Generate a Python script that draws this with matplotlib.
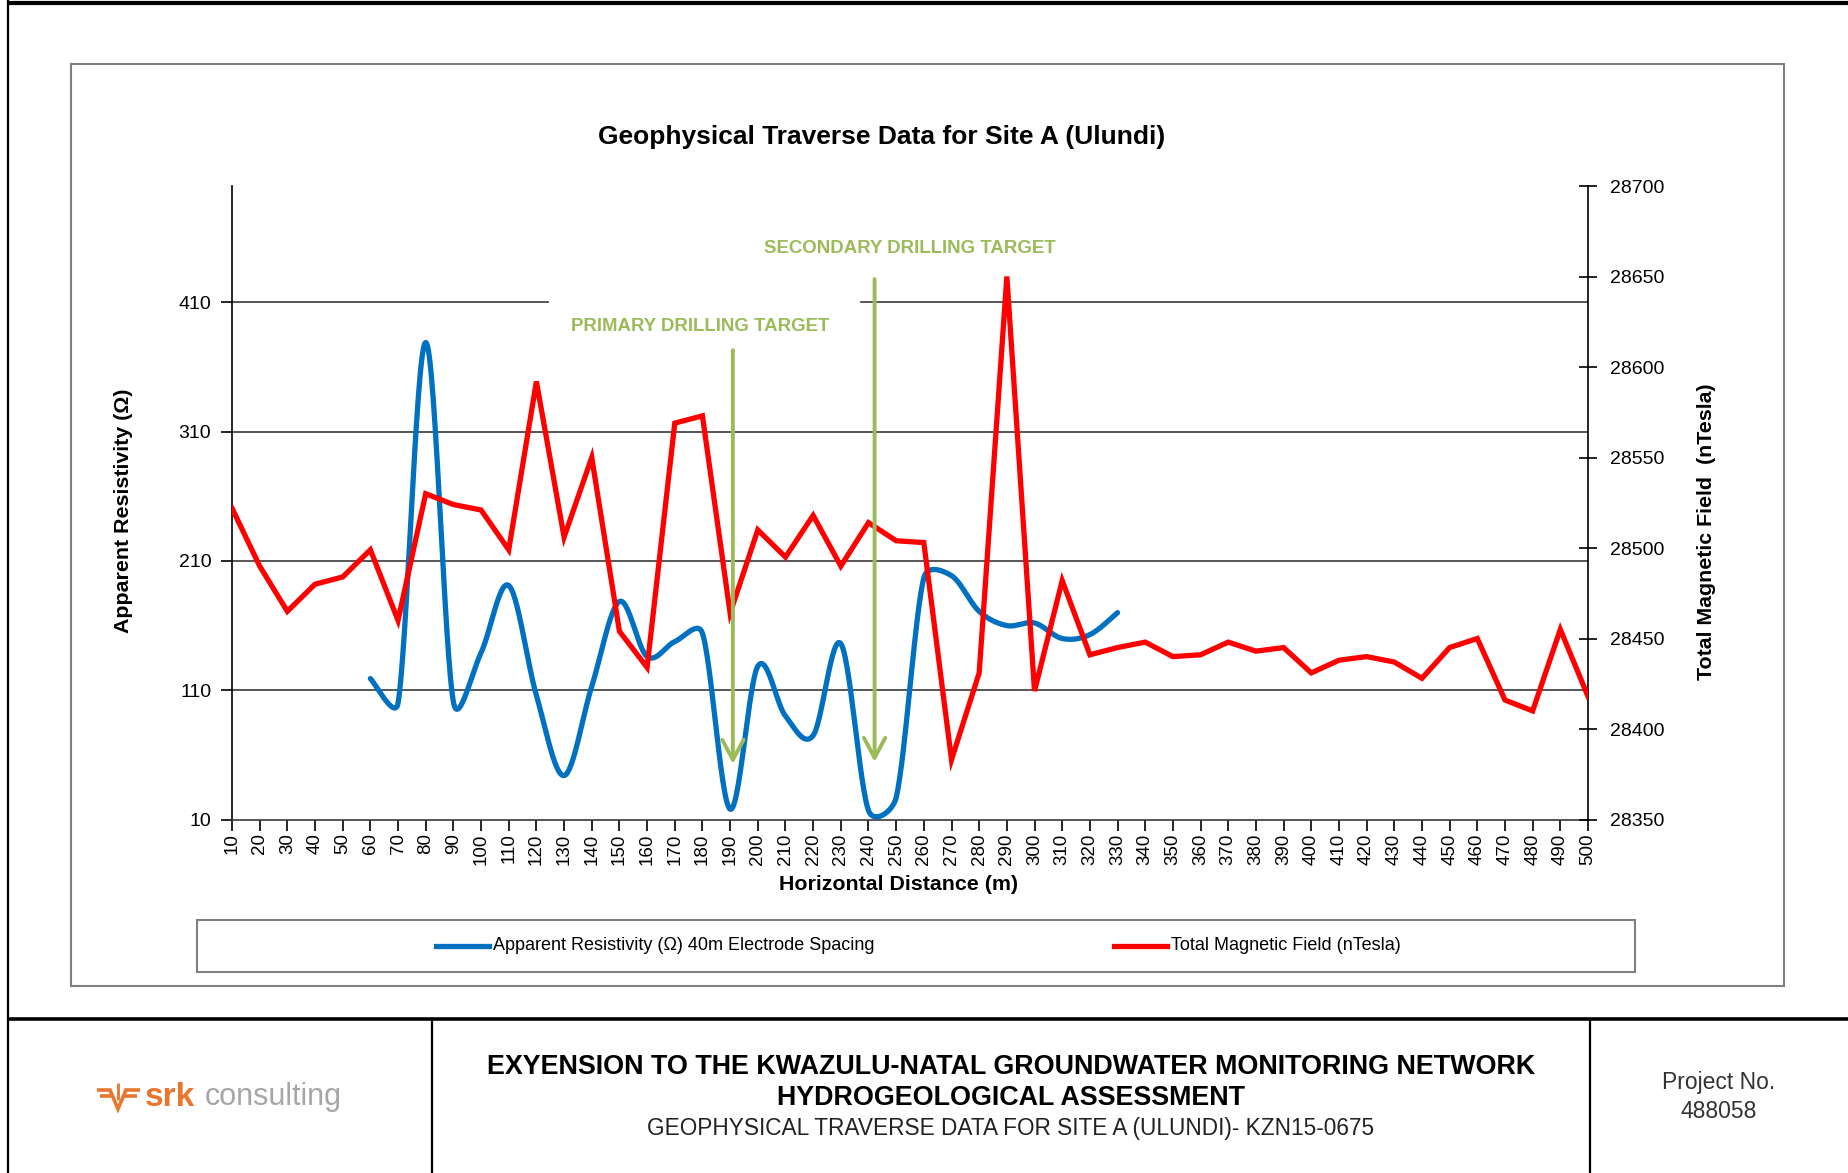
import numpy as np
import matplotlib
matplotlib.use('Agg')
import matplotlib.pyplot as plt
from matplotlib.lines import Line2D
from matplotlib.patches import Rectangle

plt.rcParams['font.family'] = ['Liberation Sans', 'DejaVu Sans']

# ---------------- data ----------------
distance = list(range(10, 510, 10))
distance_labels = [str(d) for d in distance]

res_distance = list(range(60, 340, 10))
resistivity = [119, 100, 379, 101, 139, 191, 106, 44, 113, 178.6, 136, 147.6, 154, 18,
               128.5, 90, 75, 146, 17, 27, 197, 198.6, 171, 160, 162, 150, 153, 170]

magnetic = [28522, 28490, 28465, 28480, 28484, 28499, 28460, 28530, 28524, 28521,
            28499, 28592, 28506, 28550, 28454, 28434, 28569, 28573, 28464, 28510,
            28495, 28518, 28490, 28514, 28504, 28503, 28383, 28431, 28650, 28421,
            28482, 28441, 28445, 28448, 28440, 28441, 28448, 28443, 28445, 28431,
            28438, 28440, 28437, 28428, 28445, 28450, 28416, 28410, 28455, 28418]

left_ticks = [10, 110, 210, 310, 410]
right_ticks = [28350, 28400, 28450, 28500, 28550, 28600, 28650, 28700]

# ---------------- helpers ----------------
W, H = 1849, 1173


def fx(px):
    return px / W


def fy(py):
    return 1 - py / H


def smooth(xs, ys, sx, sy, n=30):
    """Excel-like smoothed line: Bezier segments with tangent 1/6, clamped
    to half the segment length (computed in screen space, sx/sy px per unit)."""
    P = np.column_stack([np.asarray(xs, float) * sx, np.asarray(ys, float) * sy])
    out = []
    m = len(P)
    for i in range(m - 1):
        p0 = P[i - 1] if i > 0 else P[i]
        p1, p2 = P[i], P[i + 1]
        p3 = P[i + 2] if i + 2 < m else P[i + 1]
        d12 = np.hypot(*(p2 - p1))
        d02 = np.hypot(*(p2 - p0))
        d13 = np.hypot(*(p3 - p1))
        f1 = 1 / 6.0 if d02 == 0 else min(1 / 6.0, d12 / (2 * d02))
        f2 = 1 / 6.0 if d13 == 0 else min(1 / 6.0, d12 / (2 * d13))
        c1 = p1 + (p2 - p0) * f1
        c2 = p2 - (p3 - p1) * f2
        t = np.linspace(0, 1, n, endpoint=(i == m - 2))[:, None]
        seg = (1 - t) ** 3 * p1 + 3 * (1 - t) ** 2 * t * c1 + 3 * (1 - t) * t ** 2 * c2 + t ** 3 * p2
        out.append(seg)
    S = np.vstack(out)
    return S[:, 0] / sx, S[:, 1] / sy


fig = plt.figure(figsize=(W / 100, H / 100), dpi=100)
fig.patch.set_facecolor('white')

# ---------------- page frame ----------------
frame_kw = dict(transform=fig.transFigure, color='black', solid_capstyle='butt')
fig.add_artist(Line2D([fx(8), 1], [fy(2.5), fy(2.5)], lw=3.0, **frame_kw))
fig.add_artist(Line2D([fx(8), fx(8)], [fy(0), fy(H)], lw=1.6, **frame_kw))
fig.add_artist(Line2D([fx(8), 1], [fy(1019), fy(1019)], lw=2.6, **frame_kw))
fig.add_artist(Line2D([fx(432), fx(432)], [fy(1019), fy(H)], lw=1.6, **frame_kw))
fig.add_artist(Line2D([fx(1590), fx(1590)], [fy(1019), fy(H)], lw=1.6, **frame_kw))

# chart area border
fig.add_artist(Rectangle((fx(71), fy(986)), fx(1784) - fx(71), fy(64) - fy(986),
                         transform=fig.transFigure, fill=False, edgecolor='#7f7f7f', lw=1.5))

# ---------------- axes ----------------
ax_left, ax_right, ax_bottom, ax_top = 232, 1588, 819.5, 186
ax = fig.add_axes([fx(ax_left), fy(ax_bottom), fx(ax_right) - fx(ax_left), fy(ax_top) - fy(ax_bottom)])
ax2 = ax.twinx()

x_all = np.arange(len(distance))
x_res = np.array([(d - distance[0]) / 10.0 for d in res_distance])

ax.set_xlim(0, len(distance) - 1)
ax.set_ylim(10, 500)
ax2.set_ylim(28350, 28700)

# gridlines
grid_kw = dict(color='#3a3a3a', lw=1.2, zorder=0.5)
for v in left_ticks[1:4]:
    ax.axhline(v, **grid_kw)
ax.axhline(410, xmax=0.233, **grid_kw)
ax.axhline(410, xmin=0.464, **grid_kw)

# resistivity (smoothed)
px_per_x = (ax_right - ax_left) / (len(distance) - 1)
px_per_y = (ax_bottom - ax_top) / (500 - 10)
sx_, sy_ = smooth(x_res, resistivity, px_per_x, px_per_y)
ax.plot(sx_, sy_, color='#0070C0', lw=3.8, solid_capstyle='round',
        solid_joinstyle='round', zorder=3)

# magnetic field
ax2.plot(x_all, magnetic, color='#FF0000', lw=3.8, solid_joinstyle='miter', zorder=3)

# ticks / spines
ax.set_xticks(x_all)
ax.set_xticklabels(distance_labels, rotation=90)
ax.set_yticks(left_ticks)
ax.tick_params(axis='y', direction='out', length=8, width=1.2, pad=7, labelsize=14, colors='black')
ax.tick_params(axis='x', direction='out', length=8, width=1.2, pad=2, labelsize=13.5)
ax2.set_yticks(right_ticks)
ax2.tick_params(axis='y', direction='inout', length=13, width=1.2, pad=9, labelsize=14)

for s in ['top', 'right']:
    ax.spines[s].set_visible(False)
for s in ['top', 'left', 'bottom']:
    ax2.spines[s].set_visible(False)
ax.spines['left'].set_linewidth(1.2)
ax.spines['bottom'].set_linewidth(1.2)
ax.spines['bottom'].set_color('#3a3a3a')
ax2.spines['right'].set_linewidth(1.2)

# drilling target arrows (drawn above lines)
green = '#9BBB59'
arrow_kw = dict(arrowstyle='->,head_length=0.6,head_width=0.32', color=green, lw=2.8,
                mutation_scale=24, shrinkA=0, shrinkB=0)
ax2.annotate('', xy=(18.1, 53), xycoords=ax.transData, xytext=(18.1, 373),
             textcoords=ax.transData, arrowprops=arrow_kw, zorder=5)
ax2.annotate('', xy=(23.22, 54.5), xycoords=ax.transData, xytext=(23.22, 428),
             textcoords=ax.transData, arrowprops=arrow_kw, zorder=5)

fig.text(fx(700.5), fy(326.6), 'PRIMARY DRILLING TARGET', color=green, fontsize=13.4,
         fontweight='bold', ha='center', va='center')
fig.text(fx(909.7), fy(248.8), 'SECONDARY DRILLING TARGET', color=green, fontsize=13.4,
         fontweight='bold', ha='center', va='center')

# titles and labels
fig.text(fx(882), fy(137), 'Geophysical Traverse Data for Site A (Ulundi)', fontsize=19,
         fontweight='bold', ha='center', va='center')
fig.text(fx(124), fy(511), 'Apparent Resistivity (Ω)', fontsize=15.4, fontweight='bold',
         ha='center', va='center', rotation=90)
fig.text(fx(1707), fy(532), 'Total Magnetic Field  (nTesla)', fontsize=15.4, fontweight='bold',
         ha='center', va='center', rotation=90)
fig.text(fx(898.5), fy(884), 'Horizontal Distance (m)', fontsize=15.4, fontweight='bold',
         ha='center', va='center')

# legend
fig.add_artist(Rectangle((fx(197), fy(972)), fx(1635) - fx(197), fy(920) - fy(972),
                         transform=fig.transFigure, fill=False, edgecolor='#7f7f7f', lw=1.5))
fig.add_artist(Line2D([fx(436), fx(489)], [fy(945.6), fy(945.6)], transform=fig.transFigure,
                      color='#0070C0', lw=3.8))
fig.text(fx(493), fy(945.6), 'Apparent Resistivity (Ω) 40m Electrode Spacing', fontsize=13,
         ha='left', va='center')
fig.add_artist(Line2D([fx(1114), fx(1167)], [fy(945.6), fy(945.6)], transform=fig.transFigure,
                      color='#FF0000', lw=3.8))
fig.text(fx(1171), fy(945.6), 'Total Magnetic Field (nTesla)', fontsize=13,
         ha='left', va='center')

# footer text
fig.text(fx(1011), fy(1067), 'EXYENSION TO THE KWAZULU-NATAL GROUNDWATER MONITORING NETWORK',
         fontsize=19.4, fontweight='bold', ha='center', va='center')
fig.text(fx(1011), fy(1098), 'HYDROGEOLOGICAL ASSESSMENT', fontsize=19.4, fontweight='bold',
         ha='center', va='center')
fig.text(fx(1011), fy(1128.5), 'GEOPHYSICAL TRAVERSE DATA FOR SITE A (ULUNDI)- KZN15-0675',
         fontsize=16.25, ha='center', va='center', color='#222222')
fig.text(fx(1719), fy(1082.5), 'Project No.', fontsize=16.5, ha='center', va='center', color='#333333')
fig.text(fx(1719), fy(1112), '488058', fontsize=16.5, ha='center', va='center', color='#333333')

# logo
orange = '#E8762D'
logo_kw = dict(transform=fig.transFigure, color=orange, solid_capstyle='butt', solid_joinstyle='miter')
fig.add_artist(Line2D([fx(97), fx(110), fx(118), fx(126), fx(140)],
                      [fy(1090), fy(1090), fy(1109), fy(1090), fy(1090)], lw=2.6, **logo_kw))
fig.add_artist(Line2D([fx(100), fx(111)], [fy(1096), fy(1096)], lw=2.6, **logo_kw))
fig.add_artist(Line2D([fx(125), fx(137)], [fy(1096), fy(1096)], lw=2.6, **logo_kw))
fig.add_artist(Line2D([fx(118), fx(118)], [fy(1083), fy(1100)], lw=2.0, **logo_kw))
fig.text(fx(145), fy(1097), 'srk', fontsize=24, fontweight='heavy', color=orange,
         ha='left', va='center')
fig.text(fx(205), fy(1097), 'consulting', fontsize=22, color='#A6A6A6', ha='left', va='center')

fig.savefig('out.png', dpi=100, facecolor='white')
